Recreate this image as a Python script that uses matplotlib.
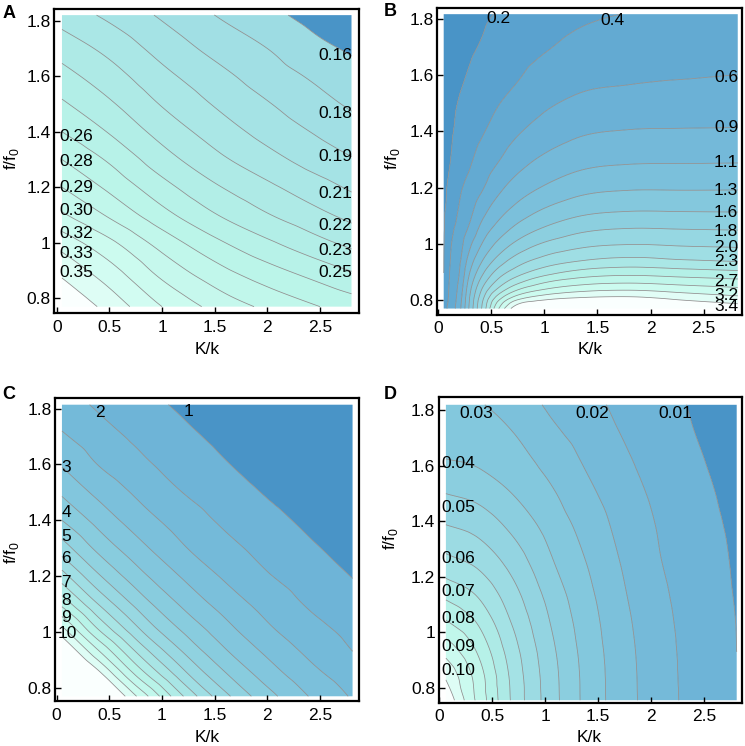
import numpy as np
import matplotlib
matplotlib.use("Agg")
import matplotlib.pyplot as plt
import matplotlib.tri as mtri
from matplotlib.colors import LinearSegmentedColormap

plt.rcParams['font.family'] = ['Liberation Sans', 'DejaVu Sans']
plt.rcParams['mathtext.fontset'] = 'custom'
plt.rcParams['mathtext.rm'] = 'Liberation Sans'

# ---------------- data ----------------
# Panel A
a_x = [0.05, 0.5, 1.0, 1.5, 2.0, 2.5, 2.8]
a_y = [0.77, 0.88, 0.99, 1.10, 1.20, 1.30, 1.40, 1.50, 1.60, 1.70, 1.82]
a_z = [
    [0.360, 0.341, 0.318, 0.300, 0.287, 0.276, 0.270],
    [0.345, 0.326, 0.302, 0.284, 0.270, 0.258, 0.251],
    [0.328, 0.309, 0.286, 0.267, 0.252, 0.239, 0.232],
    [0.306, 0.288, 0.267, 0.249, 0.235, 0.223, 0.216],
    [0.290, 0.273, 0.253, 0.236, 0.223, 0.211, 0.204],
    [0.276, 0.260, 0.240, 0.224, 0.211, 0.199, 0.193],
    [0.262, 0.247, 0.229, 0.214, 0.201, 0.190, 0.184],
    [0.250, 0.236, 0.219, 0.205, 0.193, 0.182, 0.176],
    [0.239, 0.226, 0.210, 0.197, 0.185, 0.175, 0.169],
    [0.228, 0.216, 0.201, 0.188, 0.178, 0.167, 0.162],
    [0.214, 0.203, 0.190, 0.178, 0.168, 0.158, 0.153],
]
a_levels = [0.164, 0.178, 0.192, 0.206, 0.220, 0.234, 0.248, 0.262,
            0.276, 0.290, 0.304, 0.318, 0.332, 0.346]
a_labels = ["0.16", "0.18", "0.19", "0.21", "0.22", "0.23", "0.25",
            "0.26", "0.28", "0.29", "0.30", "0.32", "0.33", "0.35"]
a_lab_x = [2.65, 2.65, 2.65, 2.65, 2.65, 2.65, 2.65,
           0.19, 0.19, 0.19, 0.19, 0.19, 0.19, 0.19]
a_lab_y = [1.673, 1.467, 1.310, 1.176, 1.062, 0.974, 0.893,
           1.382, 1.292, 1.200, 1.115, 1.034, 0.962, 0.893]

# Panel B
b_x = [0.054, 0.12, 0.2, 0.3, 0.42, 0.56, 0.75, 1.0, 1.35, 1.8, 2.3, 2.82]
b_y = [0.77, 0.79, 0.81, 0.84, 0.87, 0.90, 0.94, 0.99, 1.05, 1.12,
       1.20, 1.30, 1.42, 1.56, 1.70, 1.817]
b_z = [
    [0.33, 0.49, 0.79, 1.39, 2.08, 2.90, 3.60, 3.70, 3.75, 3.80, 3.69, 3.56],
    [0.30, 0.481, 0.765, 1.366, 2.04, 2.758, 3.356, 3.547, 3.628, 3.64, 3.507, 3.393],
    [0.27, 0.473, 0.739, 1.342, 1.963, 2.564, 3.055, 3.289, 3.407, 3.438, 3.329, 3.227],
    [0.23, 0.464, 0.701, 1.271, 1.818, 2.268, 2.680, 2.935, 3.089, 3.140, 3.066, 2.993],
    [0.195, 0.451, 0.663, 1.183, 1.662, 2.048, 2.379, 2.645, 2.811, 2.871, 2.818, 2.761],
    [0.168, 0.438, 0.627, 1.095, 1.513, 1.865, 2.148, 2.378, 2.556, 2.626, 2.578, 2.529],
    [0.164, 0.416, 0.590, 0.982, 1.334, 1.643, 1.918, 2.117, 2.258, 2.328, 2.280, 2.240],
    [0.158, 0.390, 0.543, 0.843, 1.147, 1.414, 1.668, 1.868, 2.005, 2.061, 2.035, 2.015],
    [0.150, 0.345, 0.486, 0.686, 0.967, 1.189, 1.415, 1.601, 1.754, 1.814, 1.802, 1.790],
    [0.141, 0.282, 0.420, 0.572, 0.787, 0.986, 1.177, 1.351, 1.492, 1.547, 1.544, 1.539],
    [0.130, 0.225, 0.363, 0.473, 0.616, 0.799, 0.973, 1.118, 1.253, 1.304, 1.305, 1.308],
    [0.117, 0.172, 0.295, 0.375, 0.489, 0.612, 0.771, 0.905, 1.017, 1.061, 1.067, 1.072],
    [0.102, 0.138, 0.221, 0.298, 0.369, 0.463, 0.582, 0.701, 0.805, 0.844, 0.852, 0.857],
    [0.084, 0.112, 0.155, 0.208, 0.279, 0.344, 0.417, 0.526, 0.608, 0.641, 0.661, 0.677],
    [0.065, 0.090, 0.118, 0.146, 0.189, 0.255, 0.307, 0.380, 0.469, 0.513, 0.531, 0.546],
    [0.050, 0.070, 0.090, 0.110, 0.140, 0.180, 0.220, 0.280, 0.360, 0.408, 0.430, 0.450],
]
b_levels = [0.170, 0.402, 0.634, 0.866, 1.098, 1.330, 1.562, 1.794,
            2.026, 2.258, 2.490, 2.722, 2.954, 3.186, 3.418]
b_labels = ["0.2", "0.4", "0.6", "0.9", "1.1", "1.3", "1.6", "1.8",
            "2.0", "2.3", "2.7", "3.2", "3.4"]
b_lab_x = [0.57, 1.64, 2.71, 2.71, 2.71, 2.71, 2.71, 2.71,
           2.71, 2.71, 2.71, 2.71, 2.71]
b_lab_y = [1.800, 1.795, 1.593, 1.413, 1.290, 1.191, 1.112, 1.043,
           0.987, 0.936, 0.865, 0.818, 0.776]

# Panel C
c_x = [0.05, 0.4, 0.8, 1.2, 1.6, 2.0, 2.4, 2.81]
c_y = [0.77, 0.85, 0.93, 1.01, 1.10, 1.20, 1.30, 1.40, 1.50, 1.60, 1.70, 1.814]
c_z = [
    [14.0, 11.91, 9.42, 7.02, 5.18, 3.91, 2.98, 2.26],
    [12.64, 10.54, 7.95, 5.89, 4.39, 3.35, 2.56, 1.96],
    [11.27, 9.06, 6.73, 4.97, 3.75, 2.87, 2.20, 1.67],
    [9.86, 7.63, 5.63, 4.23, 3.23, 2.45, 1.90, 1.47],
    [8.17, 6.30, 4.68, 3.55, 2.72, 2.09, 1.60, 1.24],
    [6.63, 5.08, 3.84, 2.93, 2.24, 1.72, 1.35, 0.98],
    [5.33, 4.15, 3.17, 2.40, 1.87, 1.45, 1.09, 0.78],
    [4.33, 3.43, 2.62, 2.02, 1.55, 1.19, 0.87, 0.58],
    [3.57, 2.83, 2.17, 1.66, 1.30, 0.95, 0.67, 0.38],
    [2.95, 2.31, 1.80, 1.40, 1.04, 0.75, 0.47, 0.18],
    [2.42, 1.95, 1.51, 1.15, 0.83, 0.55, 0.27, -0.02],
    [1.98, 1.57, 1.21, 0.89, 0.60, 0.32, 0.04, -0.25],
]
c_levels = [1.0, 1.667, 2.333, 3.0, 3.667, 4.333, 5.0, 5.667, 6.333,
            7.0, 7.667, 8.333, 9.0, 9.667, 10.333]
c_labels = ["2", "1", "3", "4", "5", "6", "7", "8", "9", "10"]
c_lab_x = [0.41, 1.25, 0.09, 0.09, 0.09, 0.09, 0.09, 0.09, 0.09, 0.10]
c_lab_y = [1.787, 1.790, 1.590, 1.429, 1.343, 1.262, 1.178, 1.113, 1.051, 0.993]

# Panel D
d_x = [0.063, 0.35, 0.7, 1.05, 1.4, 1.75, 2.1, 2.45, 2.81]
d_y = [0.756, 0.84, 0.93, 1.03, 1.14, 1.26, 1.38, 1.50, 1.62, 1.72, 1.82]
d_z = [
    [0.1025, 0.0826, 0.0618, 0.0465, 0.0346, 0.0259, 0.0191, 0.0143, 0.0101],
    [0.0960, 0.0812, 0.0612, 0.0462, 0.0345, 0.0258, 0.0190, 0.0142, 0.0101],
    [0.0879, 0.0768, 0.0593, 0.0452, 0.0340, 0.0255, 0.0188, 0.0141, 0.0100],
    [0.0780, 0.0704, 0.0561, 0.0433, 0.0331, 0.0248, 0.0184, 0.0139, 0.0099],
    [0.0680, 0.0628, 0.0521, 0.0408, 0.0316, 0.0237, 0.0177, 0.0135, 0.0096],
    [0.0583, 0.0550, 0.0470, 0.0374, 0.0296, 0.0224, 0.0167, 0.0129, 0.0093],
    [0.0505, 0.0481, 0.0417, 0.0343, 0.0274, 0.0210, 0.0160, 0.0122, 0.0089],
    [0.0433, 0.0415, 0.0365, 0.0310, 0.0248, 0.0194, 0.0150, 0.0114, 0.0084],
    [0.0369, 0.0358, 0.0325, 0.0277, 0.0223, 0.0176, 0.0140, 0.0105, 0.0078],
    [0.0342, 0.0333, 0.0300, 0.0248, 0.0204, 0.0162, 0.0130, 0.0097, 0.0073],
    [0.0316, 0.0306, 0.0272, 0.0222, 0.0185, 0.0151, 0.0120, 0.0091, 0.0067],
]
d_levels = [0.0100, 0.0167, 0.0233, 0.0300, 0.0367, 0.0433, 0.0500,
            0.0567, 0.0633, 0.0700, 0.0767, 0.0833, 0.0900, 0.0967]
d_labels = ["0.03", "0.02", "0.01", "0.04", "0.05", "0.06", "0.07",
            "0.08", "0.09", "0.10"]
d_lab_x = [0.345, 1.446, 2.232, 0.182, 0.182, 0.182, 0.182, 0.182, 0.182, 0.182]
d_lab_y = [1.788, 1.788, 1.788, 1.610, 1.450, 1.265, 1.148, 1.052, 0.950, 0.862]

x_ticks = [0, 0.5, 1, 1.5, 2, 2.5]
x_ticklabels = ["0", "0.5", "1", "1.5", "2", "2.5"]
y_ticks = [0.8, 1.0, 1.2, 1.4, 1.6, 1.8]
y_ticklabels = ["0.8", "1", "1.2", "1.4", "1.6", "1.8"]

# ---------------- style ----------------
W, H = 745, 746
cmap = LinearSegmentedColormap.from_list("mma", [
    (0.00, (73/255, 148/255, 199/255)),
    (0.10, (90/255, 162/255, 207/255)),
    (0.25, (110/255, 180/255, 215/255)),
    (0.45, (135/255, 203/255, 222/255)),
    (0.62, (160/255, 222/255, 228/255)),
    (0.78, (185/255, 244/255, 232/255)),
    (0.90, (208/255, 252/255, 241/255)),
    (1.00, (250/255, 255/255, 254/255)),
])

fig = plt.figure(figsize=(W / 100, H / 100), dpi=100)
FS = 12.5


def px_box(l, t, r, b):
    return [l / W, 1 - b / H, (r - l) / W, (b - t) / H]


def panel(box, xlim, ylim, x, y, z, levels, t0, t1, labels, lx, ly, subdiv):
    ax = fig.add_axes(px_box(*box))
    X, Y = np.meshgrid(x, y)
    Z = np.array(z, dtype=float)
    tri = mtri.Triangulation(X.ravel(), Y.ravel())
    interp = mtri.CubicTriInterpolator(tri, Z.ravel(), kind="geom")
    tri_r, z_r = mtri.UniformTriRefiner(tri).refine_field(
        Z.ravel(), triinterpolator=interp, subdiv=subdiv)
    n = len(levels)
    cols = [cmap(0.0)]
    for i in range(1, n):
        cols.append(cmap(t0 + (t1 - t0) * (i - 1) / max(n - 2, 1)))
    cols.append(cmap(1.0))
    bounds = [-1e6] + list(levels) + [1e6]
    ax.tricontourf(tri_r, z_r, levels=bounds, colors=cols, antialiased=True)
    ax.tricontour(tri_r, z_r, levels=levels, colors="#8c8c8c", linewidths=0.55)
    for s, xx, yy in zip(labels, lx, ly):
        ax.text(xx, yy, s, fontsize=FS, ha="center", va="center")
    ax.set_xlim(*xlim)
    ax.set_ylim(*ylim)
    ax.set_xticks(x_ticks)
    ax.set_xticklabels(x_ticklabels)
    ax.set_yticks(y_ticks)
    ax.set_yticklabels(y_ticklabels)
    ax.tick_params(direction="in", length=4, width=1, labelsize=FS,
                   top=False, right=False, pad=2.5)
    ax.tick_params(axis="x", pad=4.5)
    for sp in ax.spines.values():
        sp.set_linewidth(1.6)
    return ax


panel((54.3, 9.3, 359.3, 313.3), (-0.023, 2.874), (0.746, 1.841),
      a_x, a_y, a_z, a_levels, 0.60, 0.93, a_labels, a_lab_x, a_lab_y, 4)
panel((437, 7.7, 742, 315), (-0.009, 2.86), (0.747, 1.840),
      b_x, b_y, b_z, b_levels, 0.10, 0.94, b_labels, b_lab_x, b_lab_y, 3)
panel((55, 398, 359.3, 701.3), (-0.016, 2.874), (0.752, 1.838),
      c_x, c_y, c_z, c_levels, 0.25, 0.93, c_labels, c_lab_x, c_lab_y, 4)
panel((438.7, 397.3, 742, 703), (-0.005, 2.86), (0.746, 1.847),
      d_x, d_y, d_z, d_levels, 0.25, 0.93, d_labels, d_lab_x, d_lab_y, 4)


def ftext(xp, yp, s, **kw):
    fig.text(xp / W, 1 - yp / H, s, **kw)


for (xp, yp) in [(206.7, 350), (590, 350), (206.7, 738), (588.7, 737.5)]:
    ftext(xp, yp, "K/k", fontsize=FS, ha="center", va="center")
for (xp, yp) in [(11.7, 158), (392, 158), (11.7, 552), (390.3, 538)]:
    ftext(xp, yp, r"f/f$_\mathregular{0}$", fontsize=FS, ha="center",
          va="center", rotation=90)
for (xp, yp, s) in [(9.3, 13.3, "A"), (390.3, 11.7, "B"),
                    (8.3, 394.7, "C"), (390.3, 394.7, "D")]:
    ftext(xp, yp, s, fontsize=13, fontweight="bold", ha="center", va="center")

fig.savefig("out.png", dpi=100)
